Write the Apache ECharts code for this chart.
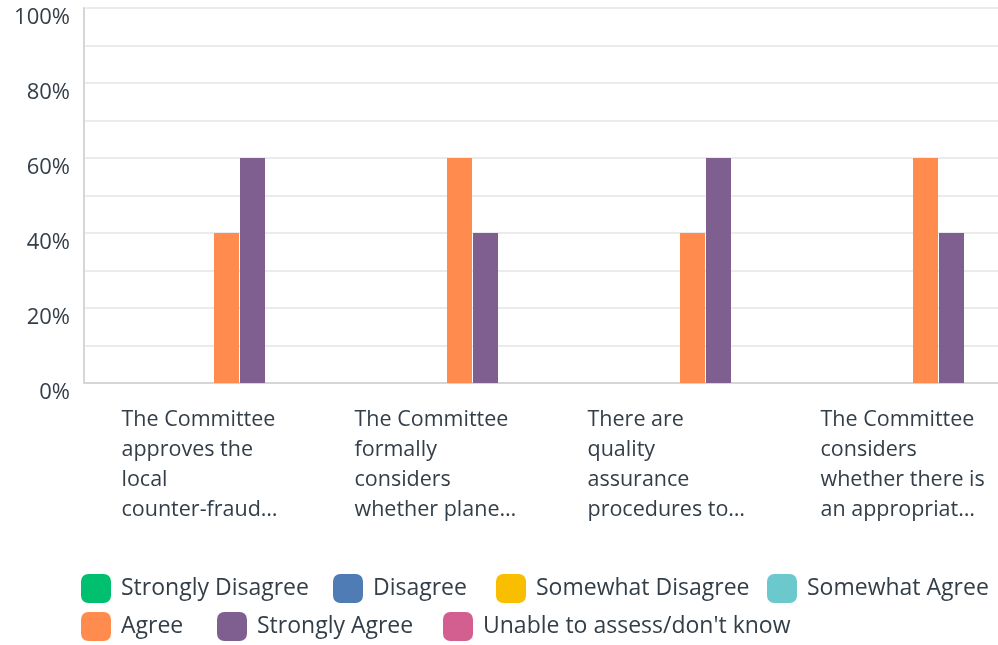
<!DOCTYPE html>
<html>
<head>
<meta charset="utf-8">
<script src="https://cdn.jsdelivr.net/npm/echarts@6/dist/echarts.min.js"></script>
<style>
  html, body { margin: 0; padding: 0; background: #fff; }
  #chart { width: 998px; height: 645px; }
</style>
</head>
<body>
<div id="chart"></div>
<script>
// Survey statements (truncated, wrapped as shown under each group)
const categories = [
  'The Committee\napproves the\nlocal\ncounter-fraud…',
  'The Committee\nformally\nconsiders\nwhether plane…',
  'There are\nquality\nassurance\nprocedures to…',
  'The Committee\nconsiders\nwhether there is\nan appropriat…'
];

// Response options, in answer-scale order
const seriesNames = [
  'Strongly Disagree', 'Disagree', 'Somewhat Disagree', 'Somewhat Agree',
  'Agree', 'Strongly Agree', "Unable to assess/don't know"
];
const seriesColors = ['#00bf6f', '#507cb6', '#f9be00', '#6bc8cd', '#ff8b4f', '#7f5f90', '#d25f90'];

// Percentage of respondents per statement
const stronglyDisagree = [0, 0, 0, 0];
const disagree         = [0, 0, 0, 0];
const somewhatDisagree = [0, 0, 0, 0];
const somewhatAgree    = [0, 0, 0, 0];
const agree            = [40, 60, 40, 60];
const stronglyAgree    = [60, 40, 60, 40];
const unableToAssess   = [0, 0, 0, 0];

const seriesValues = [stronglyDisagree, disagree, somewhatDisagree, somewhatAgree, agree, stronglyAgree, unableToAssess];

const yTicks = [0, 20, 40, 60, 80, 100];

const textColor = '#333e48';
const fontFamily = '"Open Sans", sans-serif';

// Legend laid out in two rows; each entry placed on its own
const legendSlots = [
  { left: 81, top: 574 }, { left: 333, top: 574 }, { left: 496, top: 574 }, { left: 767, top: 574 },
  { left: 81, top: 612 }, { left: 217, top: 612 }, { left: 443, top: 612 }
];

const chart = echarts.init(document.getElementById('chart'), null, { renderer: 'canvas' });

chart.setOption({
  animation: false,
  color: seriesColors,
  // plot area runs past the right edge of the canvas
  grid: { left: 84, width: 932, top: 8, bottom: 262, containLabel: false, outerBoundsMode: 'none' },
  legend: seriesNames.map(function (name, i) {
    return {
      data: [name],
      left: legendSlots[i].left,
      top: legendSlots[i].top,
      padding: 0,
      icon: 'roundRect',
      itemWidth: 30,
      itemHeight: 29,
      selectedMode: false,
      textStyle: {
        color: textColor, fontSize: 23, fontFamily: fontFamily,
        padding: [8, 0, 0, 5]
      }
    };
  }),
  xAxis: {
    type: 'category',
    data: categories,
    axisLine: { lineStyle: { color: '#d6d6d6', width: 2 } },
    axisTick: { show: false },
    axisLabel: {
      interval: 0,
      margin: 22,
      formatter: function (v) { return '{t|' + v + '}'; },
      rich: {
        t: {
          width: 158, align: 'left', color: textColor, fontSize: 21.5,
          lineHeight: 30, fontFamily: fontFamily
        }
      }
    }
  },
  yAxis: {
    type: 'value',
    min: 0,
    max: 100,
    interval: 10,
    axisLine: { show: true, lineStyle: { color: '#d6d6d6', width: 2 } },
    axisTick: { show: false },
    splitLine: { lineStyle: { color: '#ebebeb', width: 2 } },
    axisLabel: {
      margin: 14,
      color: textColor,
      fontSize: 22,
      fontFamily: fontFamily,
      verticalAlign: 'top',
      lineHeight: 20,
      formatter: function (v) { return yTicks.indexOf(v) >= 0 ? v + '%' : ''; }
    }
  },
  series: seriesNames.map(function (name, i) {
    return {
      name: name,
      type: 'bar',
      data: seriesValues[i],
      barWidth: 25,
      barGap: '4%',
      itemStyle: { color: seriesColors[i] }
    };
  })
});
</script>
</body>
</html>
